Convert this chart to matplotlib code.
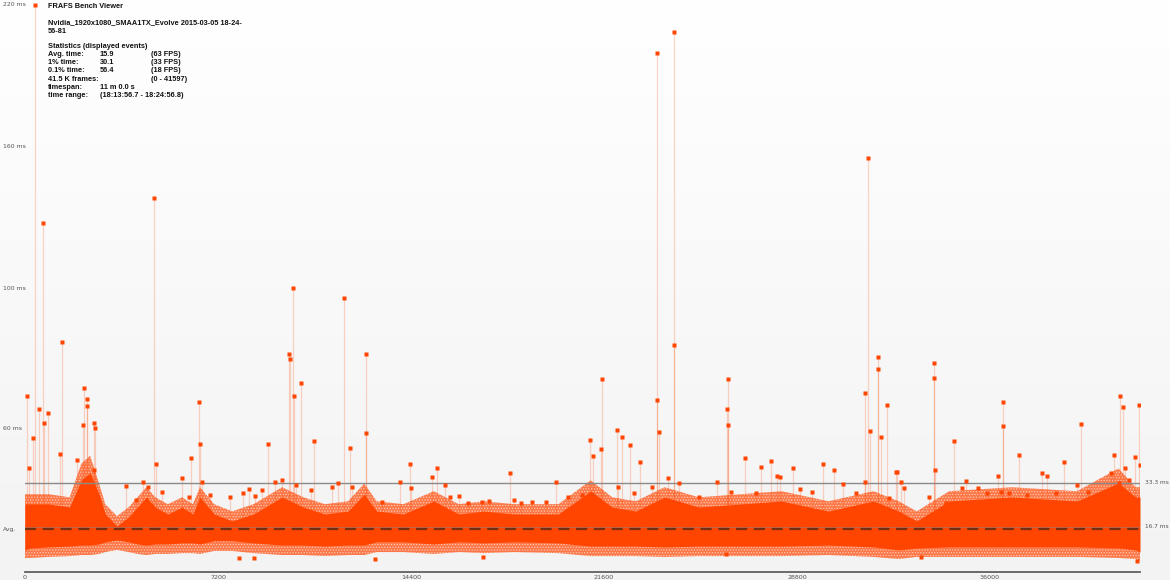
import numpy as np
import matplotlib
matplotlib.use("Agg")
import matplotlib.pyplot as plt
from matplotlib.scale import FuncScale
from matplotlib.transforms import blended_transform_factory
from matplotlib.colors import LinearSegmentedColormap

# ---------------- data ----------------
x_ticks = [0, 7200, 14400, 21600, 28800, 36000]
y_ticks = [60, 100, 160, 220]
n_frames = 41597
avg_ms = 15.9
ref_lines = [33.3, 16.7]

# envelope of the dense frame-time cloud (frame index -> ms)
band_frames = [0, 200, 866, 1665, 2098, 2431, 2764, 2997, 3430, 3863, 4196, 4529, 4862,
               5328, 5860, 6260, 6527, 7060, 7725, 8525, 9590, 10390, 11189, 12055,
               12654, 13120, 14119, 15251, 16184, 17116, 18260, 19900, 21105, 21911,
               22785, 23860, 25137, 26750, 28228, 29975, 31655, 32596, 33268, 34478,
               36830, 39249, 40795, 41431, 41597]
halo_top = [29.1, 29.1, 29.1, 27.9, 42.8, 46.8, 33.1, 25.3, 20.8, 24.1, 27.9, 31.7, 27.9,
            25.3, 27.9, 25.3, 31.7, 25.3, 22.6, 25.3, 31.7, 27.9, 25.3, 26.4,
            33.1, 26.4, 25.3, 30.2, 25.3, 26.4, 25.3, 25.3, 34.6, 27.9,
            26.4, 31.7, 27.9, 29.1, 30.2, 26.4, 30.2, 26.4, 22.6, 30.2,
            31.7, 30.2, 40.5, 31.7, 31.7]
core_top = [25.4, 25.4, 25.4, 24.2, 34.8, 38.2, 29.1, 21.6, 17.1, 20.5, 24.2, 28.0, 24.2,
            21.6, 24.2, 21.6, 28.0, 21.6, 19.0, 21.6, 28.0, 24.2, 21.6, 22.7,
            29.1, 22.7, 21.6, 26.5, 21.6, 22.7, 21.6, 21.6, 30.3, 24.2,
            22.7, 28.0, 24.2, 25.4, 26.5, 22.7, 26.5, 22.7, 19.0, 26.5,
            28.0, 26.5, 33.3, 28.0, 28.0]
core_bot = [8.2, 8.9, 9.3, 9.6, 10.0, 10.0, 10.4, 11.2, 11.9, 11.2, 10.4, 10.0, 10.4,
            10.4, 10.8, 10.8, 10.4, 11.6, 11.6, 10.8, 10.0, 10.0, 9.6, 10.0,
            10.0, 11.2, 11.2, 10.4, 11.2, 10.8, 11.2, 10.8, 9.6, 9.6,
            9.6, 9.3, 9.6, 9.6, 9.6, 10.0, 9.3, 8.2, 8.9, 9.3,
            9.3, 9.3, 8.9, 8.2, 7.4]
halo_bot = [5.2, 5.2, 5.6, 5.9, 6.3, 6.3, 6.7, 7.4, 8.2, 7.4, 6.7, 6.3, 6.7,
            6.7, 7.0, 7.0, 6.7, 7.8, 7.8, 7.0, 6.3, 6.3, 5.9, 6.3,
            6.3, 7.4, 7.4, 6.7, 7.4, 7.0, 7.4, 7.0, 5.9, 5.9,
            5.9, 5.6, 5.9, 5.9, 5.9, 6.3, 5.6, 4.8, 5.6, 5.6,
            5.6, 5.6, 5.2, 4.8, 4.1]

# individual spikes (frame index, frame time in ms)
spike_frames = [93, 373, 671, 1399, 134, 298, 522, 694, 858, 1291, 2186, 2313, 2331,
                2574, 2611, 2163, 2590, 1958, 4797, 4886, 6192, 6475, 6513, 9832,
                9885, 9996, 10019, 10284, 9064, 10765, 11899, 12123, 12708, 12719,
                14346, 15368, 18091, 19807, 21075, 21186, 21522, 21490, 22100, 22268,
                22567, 22940, 23574, 23560, 23671, 24208, 24223, 26174, 26222, 26240,
                26845, 27826, 28646, 29788, 30176, 31332, 31444, 31519, 31817, 31830,
                31929, 32153, 32526, 33906, 33928, 33940, 34641, 36469, 36480, 37076,
                39411, 38755, 37934, 40862, 40955, 40620, 41560, 41580, 41403]
spike_ms = [69.4, 220.0, 127.7, 84.7, 40.7, 55.5, 65.7, 61.7, 64.5, 47.6, 71.6, 68.5, 66.5,
            61.7, 60.3, 61.1, 39.7, 44.7, 138.3, 42.7, 45.6, 67.7, 52.6, 81.3,
            79.9, 100.0, 69.4, 73.1, 52.6, 54.0, 97.2, 50.6, 81.3, 58.0,
            42.7, 40.7, 38.2, 33.8, 54.5, 46.6, 74.2, 50.1, 59.5, 56.0,
            52.1, 43.7, 199.7, 68.2, 58.5, 208.6, 83.8, 65.7, 74.2, 61.1,
            45.6, 44.2, 40.7, 42.7, 39.7, 70.2, 155.3, 59.0, 80.4, 77.0,
            56.0, 66.8, 38.7, 78.8, 74.5, 39.7, 54.0, 67.7, 60.9, 47.1,
            61.4, 43.7, 38.2, 69.4, 66.2, 47.1, 66.8, 42.2, 46.1]

# scattered frames just above the dense band
dot_frames = [3767, 4130, 4397, 4596, 5129, 5856, 6118, 6621, 6885, 7647, 8131, 8355,
              8580, 8859, 9325, 9586, 10108, 10657, 11451, 11671, 12190, 13316, 13988,
              14387, 15181, 15651, 15852, 16188, 16524, 17046, 17307, 18240, 18500,
              18911, 19433, 20254, 20776, 22112, 22716, 23387, 23995, 24394, 25140,
              25812, 26334, 27289, 27453, 28069, 28162, 28926, 29370, 30511, 30997,
              31321, 32227, 32477, 32664, 32787, 33738, 34346, 34950, 35111, 35547,
              35883, 36293, 36405, 36696, 37367, 38110, 38445, 39240, 39650, 39986,
              40527, 40796, 41024, 41199]
dot_ms = [32.2, 26.9, 33.6, 31.8, 29.9, 35.8, 28.0, 33.8, 28.8, 28.0, 29.5, 31.0,
          28.4, 30.6, 33.8, 34.8, 32.5, 30.6, 31.8, 33.5, 31.8, 26.1, 33.8,
          31.4, 36.3, 32.5, 28.0, 28.4, 25.7, 26.1, 26.5, 26.9, 25.7,
          26.1, 26.1, 28.0, 28.8, 31.8, 29.5, 31.8, 35.6, 33.5, 28.0,
          33.8, 29.9, 29.5, 41.2, 36.8, 36.3, 31.0, 29.9, 32.9, 29.5,
          33.8, 27.6, 38.7, 33.8, 31.4, 28.0, 25.7, 31.4, 34.3, 31.4,
          29.5, 36.8, 29.9, 29.5, 28.8, 36.8, 29.5, 32.5, 29.9, 28.4,
          38.1, 33.5, 40.6, 34.8]

# scattered frames below the dense band
low_frames = [7967, 8527, 13055, 17083, 26147, 33444, 41500]
low_ms = [5.2, 5.2, 4.7, 5.7, 6.7, 5.7, 4.2]

stats_labels = ["Avg. time:", "1% time:", "0.1% time:", "41.5 K frames:", "timespan:", "time range:"]
stats_values = ["15.9", "30.1", "56.4", "", "11 m 0.0 s", "(18:13:56.7 - 18:24:56.8)"]
stats_fps = ["(63 FPS)", "(33 FPS)", "(18 FPS)", "(0 - 41597)", "", ""]

# ---------------- axis scale of the viewer (piecewise) ----------------
scale_ms = [0, 16.7, 33.3, 60, 100, 160, 220, 400]
scale_px = [0, 45, 89, 143, 284, 425, 567, 567 + 180 * 142 / 60]


def fwd(v):
    return np.interp(v, scale_ms, scale_px)


def inv(p):
    return np.interp(p, scale_px, scale_ms)


ORANGE = "#ff4500"
W, H = 1170, 580
plt.rcParams["hatch.linewidth"] = 0.6
fig = plt.figure(figsize=(W / 100, H / 100), dpi=100, facecolor="#f8f8f8")

# background gradient over the whole canvas
bg = fig.add_axes([0, 0, 1, 1], zorder=-5)
grad = np.linspace(1, 0, 256).reshape(-1, 1)
cmap = LinearSegmentedColormap.from_list("bg", ["#f3f3f3", "#ffffff"])
bg.imshow(grad, extent=[0, 1, 0, 1], cmap=cmap, aspect="auto", origin="upper")
bg.set_axis_off()

ax = fig.add_axes([25 / W, 8 / H, 1115 / W, 572 / H])
ax.set_facecolor("none")
ax.set_yscale(FuncScale(ax, (fwd, inv)))
ax.set_xlim(0, n_frames)
ax.set_ylim(0, float(inv(572)))

bf = np.array(band_frames)
ax.fill_between(bf, halo_bot, halo_top, facecolor="#ff5a1e", alpha=0.8, lw=0, zorder=2)
ax.fill_between(bf, halo_bot, halo_top, facecolor="none", edgecolor="#ffffff",
                hatch="......", lw=0, alpha=0.55, zorder=2.5)
ax.fill_between(bf, core_bot, core_top, color=ORANGE, lw=0, zorder=3)

# faint stems
ax.vlines(spike_frames, 20, spike_ms, color=ORANGE, alpha=0.22, lw=0.9, zorder=4)
ax.vlines(dot_frames, 20, dot_ms, color=ORANGE, alpha=0.22, lw=0.9, zorder=4)

ax.plot(spike_frames, spike_ms, "s", ms=2.3, color=ORANGE, mec="none", zorder=6)
ax.plot(dot_frames, dot_ms, "s", ms=2.2, color=ORANGE, mec="none", zorder=6)
ax.plot(low_frames, low_ms, "s", ms=2.2, color=ORANGE, mec="none", zorder=6)

# reference lines
ax.axhline(ref_lines[0], color="#8a8a8a", lw=1.0, zorder=5)
ax.axhline(ref_lines[1], color="#8a8a8a", lw=0.8, alpha=0.5, zorder=5)
ax.axhline(avg_ms, color="#5a2a18", lw=1.6, alpha=0.85, dashes=(5, 3), zorder=7)

for s in ["top", "left", "right"]:
    ax.spines[s].set_visible(False)
ax.spines["bottom"].set_color("#606060")
ax.spines["bottom"].set_linewidth(1.3)
ax.set_xticks(x_ticks)
ax.set_xticklabels([str(t) for t in x_ticks])
ax.tick_params(axis="x", length=0, labelsize=4.6, labelcolor="#555555", pad=2)
ax.set_yticks([])

tl = blended_transform_factory(fig.transFigure, ax.transData)
for t in y_ticks:
    ax.text(3 / W, t, f"{t} ms", transform=tl, fontsize=4.4, color="#555555",
            ha="left", va="center")
ax.text(3 / W, avg_ms, "Avg.", transform=tl, fontsize=4.4, color="#555555",
        ha="left", va="center")
for r in ref_lines:
    ax.text(1145 / W, r, f"{r} ms", transform=tl, fontsize=4.2, color="#555555",
            ha="left", va="center")

# header text
fk = dict(fontsize=5.3, fontweight="bold", family="Liberation Sans", color="#111111",
          va="center", ha="left")


def fy(py):
    return 1 - py / H


fig.text(48 / W, fy(6), "FRAFS Bench Viewer", **fk)
fig.text(48 / W, fy(23), "Nvidia_1920x1080_SMAA1TX_Evolve 2015-03-05 18-24-", **fk)
fig.text(48 / W, fy(31.5), "56-81", **fk)
fig.text(48 / W, fy(46), "Statistics (displayed events)", **fk)
rows_y = [54.5, 62.8, 71, 79.3, 87.5, 95.8]
for yy, a, b, c in zip(rows_y, stats_labels, stats_values, stats_fps):
    fig.text(48 / W, fy(yy), a, **fk)
    if b:
        fig.text(100 / W, fy(yy), b, **fk)
    if c:
        fig.text(151 / W, fy(yy), c, **fk)

fig.savefig("out.png", dpi=100)
